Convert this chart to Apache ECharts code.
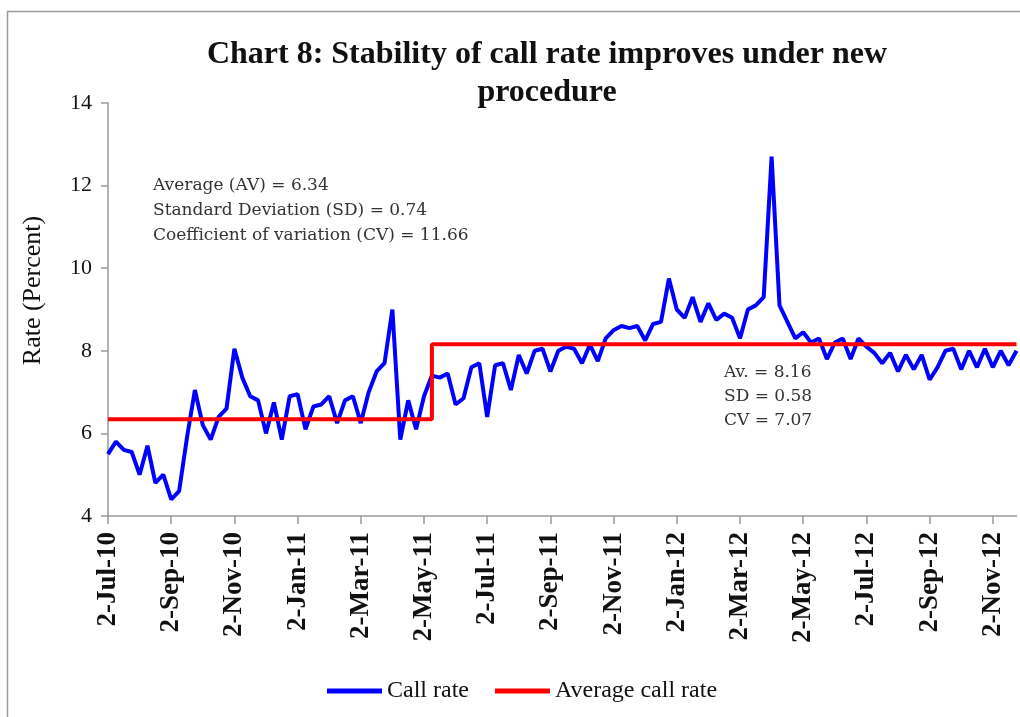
<!DOCTYPE html>
<html>
<head>
<meta charset="utf-8">
<title>Chart 8</title>
<script src="https://cdn.jsdelivr.net/npm/echarts@6/dist/echarts.min.js"></script>
<style>
  html, body { margin: 0; padding: 0; background: #fff; }
  #main { width: 1020px; height: 717px; }
</style>
</head>
<body>
<div id="main"></div>
<script>
// months on the axis, four readings per month
const months = ['Jul-10','Aug-10','Sep-10','Oct-10','Nov-10','Dec-10',
  'Jan-11','Feb-11','Mar-11','Apr-11','May-11','Jun-11','Jul-11','Aug-11','Sep-11','Oct-11','Nov-11','Dec-11',
  'Jan-12','Feb-12','Mar-12','Apr-12','May-12','Jun-12','Jul-12','Aug-12','Sep-12','Oct-12','Nov-12'];
const days = [2, 9, 17, 24];
const labelMonths = ['Jul', 'Sep', 'Nov', 'Jan', 'Mar', 'May'];

// call rate, percent
const callRate = [
  5.5, 5.8, 5.6, 5.55,
  5.0, 5.7, 4.8, 5.0,
  4.4, 4.6, 5.9, 7.05,
  6.2, 5.85, 6.4, 6.6,
  8.05, 7.35, 6.9, 6.8,
  6.0, 6.75, 5.85, 6.9,
  6.95, 6.1, 6.65, 6.7,
  6.9, 6.25, 6.8, 6.9,
  6.25, 7.0, 7.5, 7.7,
  9.0, 5.85, 6.8, 6.1,
  6.9, 7.4, 7.35, 7.45,
  6.7, 6.85, 7.6, 7.7,
  6.4, 7.65, 7.7, 7.05,
  7.9, 7.45, 8.0, 8.05,
  7.5, 8.0, 8.1, 8.05,
  7.7, 8.15, 7.75, 8.3,
  8.5, 8.6, 8.55, 8.6,
  8.25, 8.65, 8.7, 9.75,
  9.0, 8.8, 9.3, 8.7,
  9.15, 8.75, 8.9, 8.8,
  8.3, 9.0, 9.1, 9.3,
  12.7, 9.1, 8.7, 8.3,
  8.45, 8.2, 8.3, 7.8,
  8.2, 8.3, 7.8, 8.3,
  8.1, 7.95, 7.7, 7.95,
  7.5, 7.9, 7.55, 7.9,
  7.3, 7.6, 8.0, 8.05,
  7.55, 8.0, 7.6, 8.05,
  7.6, 8.0, 7.65, 8.0
];

// average call rate before / after the new procedure
const avgStart = ['2-Jul-10', '9-May-11'];
const avgValue = [6.34, 8.16];

const yTicks = [4, 6, 8, 10, 12, 14];

const dates = [];
months.forEach(m => days.forEach(d => dates.push(d + '-' + m)));

const switchIdx = dates.indexOf(avgStart[1]);
const avgRate = dates.map((d, i) => (i < switchIdx ? avgValue[0] : avgValue[1]));

function showLabel(idx, val) {
  const parts = val.split('-');
  return parts[0] === '2' && labelMonths.indexOf(parts[1]) >= 0;
}

const serif = '"Liberation Serif", "Times New Roman", serif';
const myChart = echarts.init(document.getElementById('main'));

const option = {
  backgroundColor: '#fff',
  animation: false,
  title: {
    text: 'Chart 8: Stability of call rate improves under new\nprocedure',
    left: 542,
    textAlign: 'center',
    top: 31,
    textStyle: {
      fontFamily: serif,
      fontWeight: 'bold',
      fontSize: 32,
      lineHeight: 38,
      color: '#111'
    }
  },
  legend: {
    left: 322,
    top: 674,
    itemWidth: 55,
    itemHeight: 5,
    itemGap: 26,
    icon: 'rect',
    textStyle: { fontFamily: serif, fontSize: 24, color: '#111' },
    data: ['Call rate', 'Average call rate']
  },
  grid: { left: 108, right: 3.5, top: 103, bottom: 201 },
  xAxis: {
    type: 'category',
    data: dates,
    boundaryGap: false,
    axisLine: { lineStyle: { color: '#999', width: 1.5 } },
    axisTick: { interval: showLabel, length: 8, lineStyle: { color: '#999', width: 1.5 } },
    axisLabel: {
      interval: showLabel,
      rotate: 90,
      margin: 16,
      fontFamily: serif,
      fontWeight: 'bold',
      fontSize: 27,
      color: '#111'
    },
    splitLine: { show: false }
  },
  yAxis: {
    type: 'value',
    min: yTicks[0],
    max: yTicks[yTicks.length - 1],
    interval: 2,
    name: 'Rate (Percent)',
    nameLocation: 'middle',
    nameGap: 62,
    nameTextStyle: { fontFamily: serif, fontSize: 26, color: '#111', padding: [0, 0, 0, 38] },
    axisLine: { show: true, lineStyle: { color: '#999', width: 1.5 } },
    axisTick: { show: true, length: 7, lineStyle: { color: '#999', width: 1.5 } },
    axisLabel: { fontFamily: serif, fontSize: 22, color: '#111', margin: 16 },
    splitLine: { show: false }
  },
  graphic: [
    {
      type: 'rect',
      shape: { x: 7.5, y: 11.5, width: 1030, height: 720 },
      style: { fill: 'none', stroke: '#9a9a9a', lineWidth: 1.5 },
      silent: true
    },
    {
      type: 'text',
      left: 153,
      top: 173,
      style: {
        text: 'Average (AV) = 6.34\nStandard Deviation (SD) = 0.74\nCoefficient of variation (CV) = 11.66',
        fontFamily: '"DejaVu Serif", serif',
        fontSize: 17,
        lineHeight: 25,
        fill: '#333'
      }
    },
    {
      type: 'text',
      left: 724,
      top: 361,
      style: {
        text: 'Av. = 8.16\nSD = 0.58\nCV = 7.07',
        fontFamily: '"DejaVu Serif", serif',
        fontSize: 17,
        lineHeight: 24,
        fill: '#333'
      }
    }
  ],
  series: [
    {
      name: 'Call rate',
      type: 'line',
      data: callRate,
      symbol: 'none',
      color: '#0000ff',
      lineStyle: { color: '#0000ff', width: 4 }
    },
    {
      name: 'Average call rate',
      type: 'line',
      data: avgRate,
      step: 'end',
      symbol: 'none',
      color: '#ff0000',
      lineStyle: { color: '#ff0000', width: 4 },
      z: 3
    }
  ]
};

myChart.setOption(option);
</script>
</body>
</html>
